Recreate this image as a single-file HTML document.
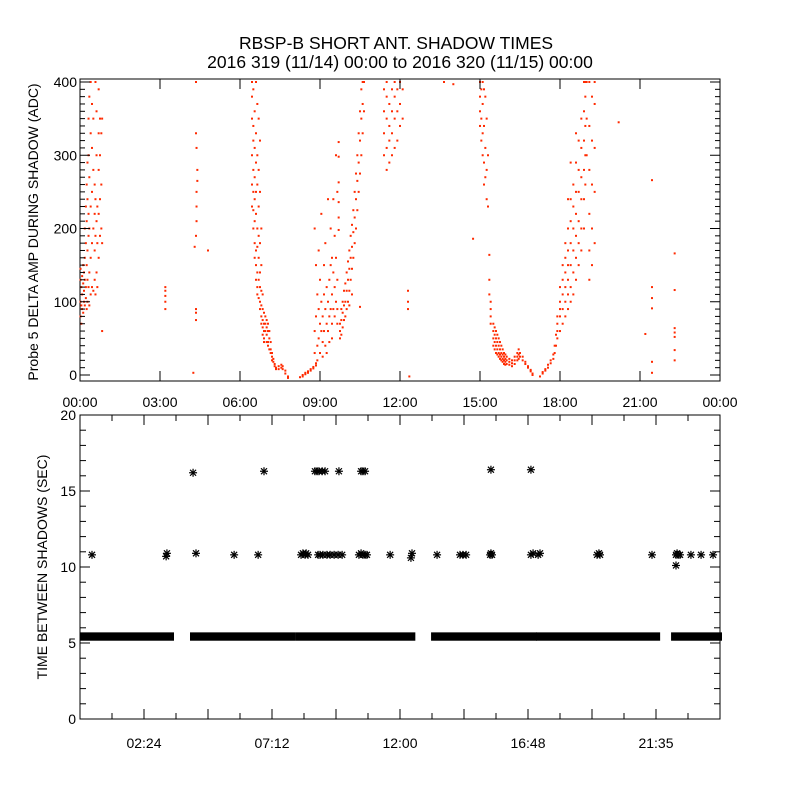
<!DOCTYPE html>
<html><head><meta charset="utf-8">
<style>
html,body{margin:0;padding:0;background:#fff;}
svg{display:block;font-family:"Liberation Sans",sans-serif;}
</style></head>
<body>
<svg id="c" width="800" height="800" viewBox="0 0 800 800">
<rect width="800" height="800" fill="#fff"/>
<text x="396" y="49" font-size="17.5" text-anchor="middle">RBSP-B SHORT ANT. SHADOW TIMES</text>
<text x="400" y="68" font-size="17.5" text-anchor="middle">2016 319 (11/14) 00:00 to 2016 320 (11/15) 00:00</text>
<g id="topPanel"></g>
<g id="botPanel"></g>
<text transform="translate(38,232) rotate(-90)" font-size="14" text-anchor="middle">Probe 5 DELTA AMP DURING SHADOW (ADC)</text>
<text transform="translate(47,567) rotate(-90)" font-size="14" text-anchor="middle">TIME BETWEEN SHADOWS (SEC)</text>
</svg>
<script>
// ---- top panel data: [hour, [values...]] ----
const clusterA=[[0.02,[80,100,130,145]],[0.05,[70,95,120]],[0.08,[110,90,135]],[0.12,[85,125,150]],[0.15,[100,140,115]],[0.18,[95,160,200,130]],[0.22,[105,180,230,120]],[0.25,[90,150,210,260]],[0.28,[100,170,240,290,130]],[0.32,[120,190,220,300,350]],[0.35,[95,140,200,270,380]],[0.4,[110,160,230,330,400]],[0.45,[120,180,250,310,370]],[0.5,[115,200,280,350]],[0.55,[130,170,220,260]],[0.58,[110,190,240,400]],[0.62,[140,210,300,360]],[0.65,[120,180,230]],[0.7,[160,220,280,330,390]],[0.75,[190,240,300,350]],[0.8,[200,260,330]],[0.83,[60,180,350]]];
const clusterB=[[3.2,[90,100,108,115,120]],[4.25,[3]],[4.3,[175]],[4.35,[75,85,90,190,330,400]],[4.37,[210,230,250,310]],[4.4,[265,280]],[4.8,[170]]];
const clusterC=[[6.45,[400,380,350,300,260,230]],[6.5,[390,340,320,280,250,225,200]],[6.55,[360,310,270,240,210,180,160]],[6.6,[400,330,290,250,220,170,150,130]],[6.65,[370,300,260,200,175,140,120,110]],[6.7,[350,280,230,190,160,130,105]],[6.75,[320,250,180,140,120,100,90]],[6.8,[200,150,115,95,80,70]],[6.85,[110,90,75,65,55]],[6.9,[85,70,60,50,45]],[6.95,[80,70,60]],[7.0,[75,65,55,45]],[7.05,[70,60,45,40]],[7.1,[60,50,35]],[7.15,[45,35,30]],[7.2,[30,25,20]],[7.25,[22,18]],[7.3,[15,12]],[7.35,[10,8]],[7.45,[8,12]],[7.55,[10,14]],[7.6,[12,8]],[7.7,[6,2]],[7.8,[-2,-4]],[8.25,[-3]],[8.35,[-2,0]],[8.45,[1,3]],[8.55,[3,5]],[8.65,[6,8]],[8.75,[9,11]],[8.85,[13,16]]];
const clusterD=[[8.8,[200,60,30]],[8.85,[150,80]],[8.9,[110,40,20]],[8.95,[170,90,50]],[9.0,[130,70,30]],[9.05,[220,100,60]],[9.1,[80,45,25]],[9.15,[150,110,60]],[9.2,[180,90,40]],[9.25,[120,70,30]],[9.3,[240,100,60]],[9.35,[130,80,45]],[9.4,[200,150,90]],[9.45,[160,110,70,50]],[9.5,[240,140,90]],[9.55,[190,120,80]],[9.6,[300,160,100]],[9.65,[250,130,90,70]],[9.7,[318,298,263,236,215,198]],[9.75,[50,60,70]],[9.8,[55,75,90]],[9.85,[65,85,100]],[9.9,[75,95,115]],[9.95,[80,100,125]],[10.0,[90,115,140]],[10.05,[100,130,155]],[10.1,[115,145,170,95]],[10.15,[130,160,190]],[10.2,[145,175,205,110]],[10.25,[160,195,225]],[10.3,[180,215,250]],[10.35,[200,240,275]],[10.4,[225,265,300]],[10.45,[250,290,330]],[10.5,[275,320,360,93]],[10.55,[300,350,390]],[10.6,[330,370,400]],[10.65,[360,400]]];
const clusterE=[[11.4,[300,330,360,390]],[11.5,[280,310,350,380,400]],[11.6,[290,320,340,370]],[11.7,[300,330,360,390]],[11.8,[310,350,380,400]],[11.9,[320,360,390]],[12.0,[340,370,400]],[12.1,[350,390]],[12.3,[115,100,90]],[12.35,[-2]],[13.65,[400]],[14.0,[397]],[14.74,[186]]];
const clusterF=[[15.0,[400,380,360,340]],[15.05,[390,350,320]],[15.1,[400,370,330,300]],[15.15,[390,340,290,260]],[15.2,[380,310,270]],[15.25,[350,280,240]],[15.3,[300,230]],[15.35,[164,130,110]],[15.4,[100,90,80,70]],[15.5,[70,60,50,40]],[15.55,[65,55,45,35]],[15.6,[60,50,40,30]],[15.65,[55,45,35,28]],[15.7,[50,40,30,25]],[15.75,[45,35,28,22]],[15.8,[40,30,25,20]],[15.85,[35,28,22,18]],[15.9,[30,25,20,15]],[15.95,[28,22,18,14]],[16.0,[25,20,15]],[16.1,[22,18,14]],[16.2,[20,16,12]],[16.3,[25,20,15]],[16.4,[30,25,20]],[16.45,[35,28,22]],[16.5,[30,25]],[16.6,[25,20]],[16.7,[18,15]],[16.8,[12,10]],[16.9,[7,5]],[16.97,[2,0]]];
const clusterG=[[17.25,[-2]],[17.35,[2,4]],[17.45,[6,8]],[17.55,[10,14]],[17.65,[16,20]],[17.75,[22,28]],[17.8,[30,40]],[17.85,[40,55]],[17.9,[50,60,70,80]],[18.0,[60,80,100,120,90]],[18.1,[70,90,110,130,150]],[18.2,[80,100,120,140,160,180]],[18.3,[90,110,130,150,170,200,240]],[18.4,[100,120,150,180,210,240,290]],[18.5,[110,140,170,200,230,260]],[18.6,[130,160,190,220,250,290,330]],[18.7,[150,180,210,250,280,320]],[18.8,[170,200,240,270,310,350]],[18.9,[200,240,280,320,360,400]],[18.95,[260,300,340,380,400]],[19.0,[300,350,400]],[19.1,[130,170,220,280,340,400]],[19.2,[150,200,260,320,380]],[19.3,[180,250,310,370,400]],[20.2,[345]],[21.2,[56]],[21.45,[266,120,105,91,18,3]],[22.3,[166,116,64,58,52,34,20]]];
// ---- bottom panel data ----
const bandStart=[0.08,4.2,8.14,13.24,17.18,22.24];
const bandEnd=[3.45,7.99,12.5,17.06,21.68,24.0];
const bandLow=5.15, bandHigh=5.7;
const starHours=[0.45,3.23,3.26,4.35,5.78,6.68,8.29,8.36,8.44,8.48,8.55,8.93,9.0,9.11,9.26,9.38,9.53,9.68,9.83,10.46,10.54,10.61,10.69,10.76,11.63,12.41,12.45,13.39,14.25,14.36,14.48,15.38,15.41,15.45,16.91,16.99,17.18,17.25,19.39,19.46,19.5,21.45,22.35,22.39,22.43,22.35,22.5,22.91,23.29,23.74];
const starValues=[10.8,10.7,10.9,10.9,10.8,10.8,10.8,10.9,10.8,10.9,10.8,10.8,10.8,10.8,10.8,10.8,10.8,10.8,10.8,10.8,10.9,10.8,10.8,10.8,10.8,10.6,10.9,10.8,10.8,10.8,10.8,10.8,10.9,10.8,10.8,10.9,10.8,10.9,10.8,10.9,10.8,10.8,10.8,10.9,10.8,10.1,10.8,10.8,10.8,10.8];
const highHours=[4.24,6.9,8.81,8.89,8.96,9.08,9.19,9.71,10.54,10.61,10.69,15.41,16.91];
const highValues=[16.2,16.3,16.3,16.3,16.3,16.3,16.3,16.3,16.3,16.3,16.3,16.4,16.4];
const topXTicks=["00:00","03:00","06:00","09:00","12:00","15:00","18:00","21:00","00:00"];
const botXTicks=["02:24","07:12","12:00","16:48","21:35"];
const botXTickHours=[2.4,7.2,12,16.8,21.6];
const topYTicks=[0,100,200,300,400];
const botYTicks=[0,5,10,15,20];

const NS="http://www.w3.org/2000/svg";
const L=80,R=720;
const xH=h=>L+h*(R-L)/24;
const yT=v=>375-v*0.7325;
const yB=v=>719-v*15.2;
function mk(parent,tag,attrs){const e=document.createElementNS(NS,tag);for(const k in attrs)e.setAttribute(k,attrs[k]);parent.appendChild(e);return e;}
const topG=document.getElementById('topPanel'),botG=document.getElementById('botPanel');

// ---- top panel ----
const tf=mk(topG,'rect',{x:L,y:79,width:R-L,height:302,fill:'none',stroke:'#000','stroke-width':1});


const dots=mk(topG,'g',{fill:'#ff2a00'});


[clusterA,clusterB,clusterC,clusterD,clusterE,clusterF,clusterG].forEach(cl=>{
  cl.forEach(g=>{g[1].forEach(v=>{
    const y=Math.max(79,Math.min(380,yT(v)));
    const d=mk(dots,'rect',{x:xH(g[0])-1,y:y-1,width:2,height:2});
    
    
  });});
});
topXTicks.forEach((t,i)=>{
  const x=xH(i*3);
  mk(topG,'line',{x1:x,y1:381,x2:x,y2:371,stroke:'#000'});
  mk(topG,'line',{x1:x,y1:79,x2:x,y2:89,stroke:'#000'});
  const tx=mk(topG,'text',{x:x,y:407,'font-size':14,'text-anchor':'middle'});
  tx.textContent=t;
  
  
});
for(let v=0;v<=400;v+=10){
  const y=yT(v),len=(v%100===0)?10:5;
  mk(topG,'line',{x1:L,y1:y,x2:L+len,y2:y,stroke:'#000'});
  mk(topG,'line',{x1:R,y1:y,x2:R-len,y2:y,stroke:'#000'});
}
topYTicks.forEach(v=>{
  const tx=mk(topG,'text',{x:L-3,y:yT(v)+5,'font-size':14,'text-anchor':'end'});
  tx.textContent=v;
  
  
});

// ---- bottom panel ----
const bf=mk(botG,'rect',{x:L,y:415,width:R-L,height:304,fill:'none',stroke:'#000','stroke-width':1});


for(let i=0;i<=20;i++){
  const y=yB(i),len=(i%5===0)?10:6;
  mk(botG,'line',{x1:L,y1:y,x2:L+len,y2:y,stroke:'#000'});
  mk(botG,'line',{x1:R,y1:y,x2:R-len,y2:y,stroke:'#000'});
}
botYTicks.forEach(v=>{
  const tx=mk(botG,'text',{x:L-4,y:yB(v)+5,'font-size':14,'text-anchor':'end'});
  tx.textContent=v;
  
  
});
for(let k=1;k<20;k++){
  const x=xH(k*1.2),len=(k%2===0)?10:6;
  mk(botG,'line',{x1:x,y1:719,x2:x,y2:719-len,stroke:'#000'});
  mk(botG,'line',{x1:x,y1:415,x2:x,y2:415+len,stroke:'#000'});
}
botXTicks.forEach((t,i)=>{
  const tx=mk(botG,'text',{x:xH(botXTickHours[i]),y:748,'font-size':14,'text-anchor':'middle'});
  tx.textContent=t;
  
  
});
bandStart.forEach((s,i)=>{
  const x1=xH(s),x2=xH(bandEnd[i]);
  const b=mk(botG,'rect',{x:x1-2,y:yB(bandHigh),width:x2-x1+4,height:yB(bandLow)-yB(bandHigh),fill:'#000'});
  
  
});
function star(cx,cy){
  const g=mk(botG,'g',{stroke:'#000','stroke-width':1.2});
  
  
  mk(g,'line',{x1:cx-4,y1:cy,x2:cx+4,y2:cy});
  mk(g,'line',{x1:cx,y1:cy-4,x2:cx,y2:cy+4});
  mk(g,'line',{x1:cx-3,y1:cy-3,x2:cx+3,y2:cy+3});
  mk(g,'line',{x1:cx-3,y1:cy+3,x2:cx+3,y2:cy-3});
}
starHours.forEach((h,i)=>star(xH(h),yB(starValues[i])));
highHours.forEach((h,i)=>star(xH(h),yB(highValues[i])));
</script>
</body></html>
